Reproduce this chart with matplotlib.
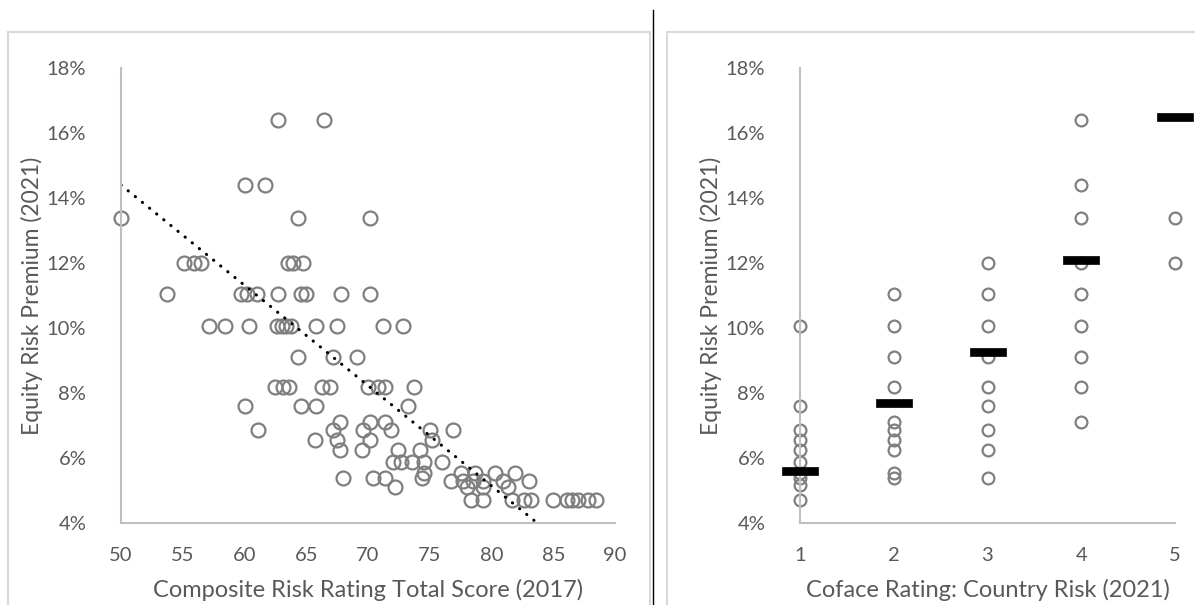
import numpy as np
import matplotlib.pyplot as plt
from matplotlib.patches import Rectangle
from matplotlib.lines import Line2D
from matplotlib.ticker import FuncFormatter

plt.rcParams['font.family'] = ['Lato', 'DejaVu Sans']

# --- left chart: composite risk score (2017) vs equity risk premium (2021)
# grouped by ERP level (%), scores
erp_levels = [16.4, 14.4, 13.4, 12.0, 11.05, 10.05, 9.1, 8.2, 7.6, 7.1,
              6.85, 6.55, 6.25, 5.88, 5.55, 5.4, 5.3, 5.1, 4.72]
scores_by_level = [
    [62.7, 66.4],
    [60.0, 61.7],
    [50.0, 64.3, 70.2],
    [55.1, 55.9, 56.5, 63.5, 63.9, 64.7],
    [53.7, 59.7, 60.2, 61.0, 62.7, 64.6, 65.0, 67.8, 70.2],
    [57.1, 58.4, 60.4, 62.6, 63.0, 63.4, 63.8, 65.8, 67.5, 71.2, 72.8],
    [64.3, 67.2, 69.1],
    [62.5, 63.1, 63.6, 66.3, 66.9, 70.0, 70.8, 71.4, 73.7],
    [60.0, 64.6, 65.8, 73.2],
    [67.7, 70.2, 71.4],
    [61.1, 67.2, 69.6, 71.9, 75.0, 76.9],
    [65.7, 67.5, 70.2, 75.2],
    [67.7, 69.5, 72.4, 74.2],
    [72.0, 72.7, 73.6, 74.5, 76.0],
    [74.5, 77.5, 78.7, 80.3, 81.9],
    [68.0, 70.4, 71.4, 74.4],
    [76.7, 77.7, 78.5, 79.3, 80.9, 83.0],
    [72.2, 78.0, 79.3, 81.3],
    [78.3, 79.3, 81.7, 82.6, 83.2, 85.0, 86.1, 86.5, 87.0, 87.8, 88.5],
]
# linear trendline as shown on the chart (ends clipped by the 4% floor)
trend_score = [50.0, 88.5]
trend_erp = [14.4, 2.52]

# --- right chart: Coface country risk rating (2021) vs ERP
coface_groups = [1, 2, 3, 4, 5]
erp_by_rating = [
    [10.05, 7.6, 6.85, 6.55, 6.25, 5.88, 5.55, 5.38, 5.17, 4.72],
    [11.05, 10.05, 9.1, 8.2, 7.1, 6.85, 6.55, 6.25, 5.55, 5.4],
    [12.0, 11.05, 10.05, 9.1, 8.2, 7.6, 6.85, 6.25, 5.4],
    [16.4, 14.4, 13.4, 12.0, 11.05, 10.05, 9.1, 8.2, 7.1],
    [13.4, 12.0],
]
erp_avg = [5.6, 7.7, 9.25, 12.1, 16.5]

text_col = '#595959'
axis_col = '#bfbfbf'
mark_col = '#7f7f7f'

fig = plt.figure(figsize=(11.95, 6.05), dpi=100)

# panel frames and separator
fig.patches.append(Rectangle((8 / 1195, -0.05), 642 / 1195, 1.05 - 32 / 605,
                             transform=fig.transFigure, fill=False,
                             edgecolor='#d9d9d9', lw=1.5))
fig.patches.append(Rectangle((667 / 1195, -0.05), 0.5, 1.05 - 32 / 605,
                             transform=fig.transFigure, fill=False,
                             edgecolor='#d9d9d9', lw=1.5))
fig.lines.append(Line2D([653 / 1195, 653 / 1195], [0, 1 - 10 / 605],
                        transform=fig.transFigure, color='black', lw=1))

pct = FuncFormatter(lambda v, p: f'{v:.0f}%')


def style(ax):
    for s in ['top', 'right']:
        ax.spines[s].set_visible(False)
    for s in ['left', 'bottom']:
        ax.spines[s].set_color(axis_col)
        ax.spines[s].set_linewidth(1.5)
    ax.tick_params(length=0, labelsize=14.5, labelcolor=text_col)
    ax.tick_params(axis='y', pad=25)
    ax.tick_params(axis='x', pad=17)
    ax.set_ylim(4, 18)
    ax.set_yticks(range(4, 19, 2))
    ax.yaxis.set_major_formatter(pct)
    ax.set_ylabel('Equity Risk Premium (2021)', fontsize=16.5, color=text_col,
                  labelpad=3)


bottom = 1 - 523 / 605
height = (523 - 68) / 605

ax1 = fig.add_axes([121 / 1195, bottom, (615 - 121) / 1195, height])
style(ax1)
x1 = np.concatenate([np.array(s) for s in scores_by_level])
y1 = np.concatenate([[lvl] * len(s) for lvl, s in zip(erp_levels, scores_by_level)])
ax1.plot(x1, y1, 'o', ms=10, mfc='none', mec=mark_col, mew=1.6, clip_on=False)
ax1.plot(trend_score, trend_erp, color='black', lw=2.2,
         linestyle=(0, (0.1, 2.9)), dash_capstyle='round')
ax1.set_xlim(50, 90)
ax1.set_xticks(range(50, 91, 5))
ax1.set_xlabel('Composite Risk Rating Total Score (2017)', fontsize=17,
               color=text_col, labelpad=11)

ax2 = fig.add_axes([800 / 1195, bottom, (1175 - 800) / 1195, height])
style(ax2)
for g, vals in zip(coface_groups, erp_by_rating):
    ax2.plot([g] * len(vals), vals, 'o', ms=8.5, mfc='none', mec=mark_col,
             mew=1.6, clip_on=False)
bar = [(-1, -0.22), (1, -0.22), (1, 0.22), (-1, 0.22), (-1, -0.22)]
ax2.plot(coface_groups, erp_avg, linestyle='none', marker=bar, ms=26,
         color='black', mec='black', mew=0.5, clip_on=False, zorder=5)
ax2.set_xlim(1, 5)
ax2.set_xticks(coface_groups)
ax2.set_xlabel('Coface Rating: Country Risk (2021)', fontsize=17,
               color=text_col, labelpad=11)

fig.savefig('out.png', dpi=100)
